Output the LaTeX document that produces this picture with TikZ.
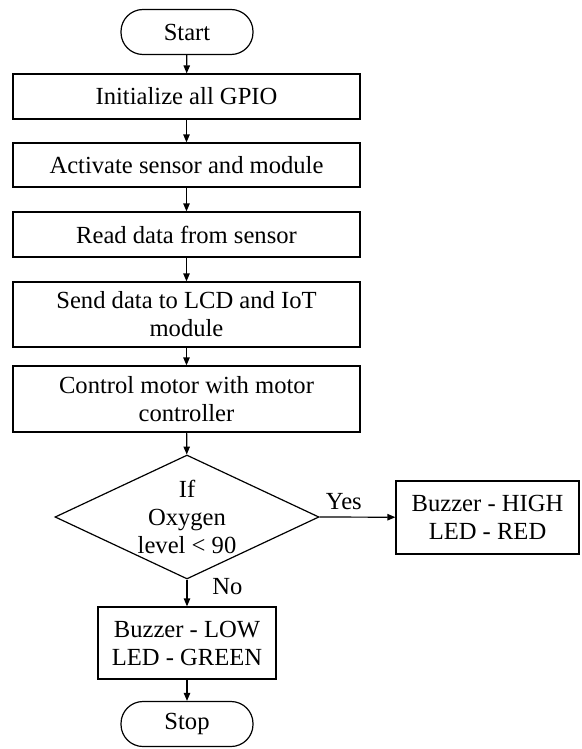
\documentclass[tikz,border=0pt]{standalone}
\usepackage{fontspec}
\setmainfont{Liberation Serif}
\usetikzlibrary{shapes.geometric,arrows.meta,positioning}

\begin{document}
\begin{tikzpicture}[x=0.5pt,y=-0.5pt,
        font=\fontsize{12.3}{14}\selectfont,
        term/.style={draw, line width=0.6pt, rounded corners=11pt, minimum width=66pt, minimum height=22.5pt, inner sep=0pt},
        procbox/.style={draw, line width=0.6pt, minimum width=173.5pt, align=center, inner sep=0pt},
        decide/.style={draw, line width=0.6pt, diamond, aspect=2.13, minimum width=132pt, minimum height=62pt, inner sep=0pt, align=center},
        flow/.style={-{Triangle[length=4pt,width=3.2pt]}, line width=0.6pt}]
        \useasboundingbox (0,0) rectangle (582,749);

        % Main column
        \node[term] (start) at (187,32) {Start};
        \node[procbox, minimum height=22.5pt] (init) at (186.5,96.5) {Initialize all GPIO};
        \node[procbox, minimum height=22pt] (activate) at (186.5,165) {Activate sensor and module};
        \node[procbox, minimum height=22.5pt] (read) at (186.5,234.5) {Read data from sensor};
        \node[procbox, minimum height=32.5pt] (send) at (186.5,314.5) {Send data to LCD and IoT\\module};
        \node[procbox, minimum height=33pt] (motor) at (186.5,399) {Control motor with motor\\controller};

        % Decision
        \node[decide] (check) at (187,517) {If\\Oxygen\\level < 90};
        \node[draw, line width=0.6pt, minimum width=91.5pt, minimum height=36.5pt, align=center, inner sep=0pt] (alarm) at (487.5,517.5) {Buzzer - HIGH\\LED - RED};
        \node[draw, line width=0.6pt, minimum width=89pt, minimum height=36pt, align=center, inner sep=0pt] (normal) at (187,643) {Buzzer - LOW\\LED - GREEN};
        \node[term] (stop) at (187,724) {Stop};

        % Arrows
        \draw[flow] (start) -- (init);
        \draw[flow] (init) -- (activate);
        \draw[flow] (activate) -- (read);
        \draw[flow] (read) -- (send);
        \draw[flow] (send) -- (motor);
        \draw[flow] (motor) -- (check);
        \draw[flow] (check.east) -- node[pos=0.32, above] {Yes} (alarm);
        \draw[flow] (check.south) -- node[pos=0.25, right=9pt] {No} (normal);
        \draw[flow] (normal) -- (stop);
    \end{tikzpicture}
\end{document}
